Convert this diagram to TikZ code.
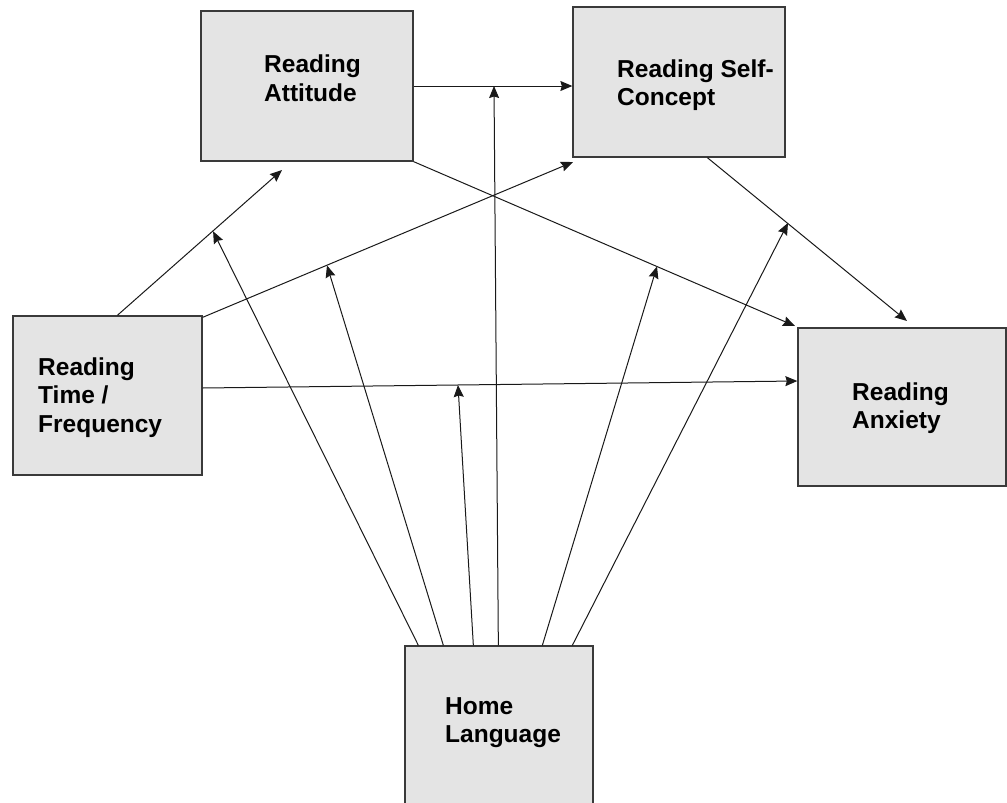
\documentclass[tikz,border=0pt]{standalone}
\usepackage{fontspec}
\setmainfont{Liberation Sans}
\usetikzlibrary{arrows.meta, positioning}
\definecolor{boxfill}{HTML}{E4E4E4}
\definecolor{boxline}{HTML}{3A3A3A}
\tikzset{
  var/.style={draw=boxline, fill=boxfill, line width=1.3pt, inner sep=0pt},
  lbl/.style={anchor=base west, align=left, inner sep=0pt,
    font=\bfseries\fontsize{24.5}{28.5}\selectfont},
  link/.style={-{Stealth[length=12pt,width=10pt,inset=1.5pt]}, line width=1pt, draw=black!90},
}

\begin{document}
\begin{tikzpicture}[x=1pt,y=-1pt]
      \useasboundingbox (0,0) rectangle (1007,803);

      % variables
      \node[var, minimum width=212pt, minimum height=150pt] (att) at (307,86) {};
      \node[var, minimum width=212pt, minimum height=150pt] (rsc) at (679,82) {};
      \node[var, minimum width=189pt, minimum height=159pt] (rtf) at (107.5,395.5) {};
      \node[var, minimum width=208pt, minimum height=158pt] (anx) at (902,407) {};
      \node[var, minimum width=188pt, minimum height=174pt] (hl) at (499,733) {};

      % labels (anchored on the baseline of the last line)
      \node[lbl] (attT) at (264,101) {Reading\\Attitude};
      \node[lbl] (rscT) at (617,105.5) {Reading Self-\\Concept};
      \node[lbl] (rtfT) at (38,432) {Reading\\Time /\\Frequency};
      \node[lbl] (anxT) at (852,428.5) {Reading\\Anxiety};
      \node[lbl] (hlT) at (445,742.5) {Home\\Language};

      % free arrow ends
      \coordinate (attIn) at (282,170);
      \coordinate (rscIn) at (573,162);
      \coordinate (anxIn) at (795,326);
      \coordinate (anxTop) at (907,321);
      \coordinate (onAR) at (494,86);
      \coordinate (onTA) at (213.1,231.3);
      \coordinate (onTR) at (327,265.4);
      \coordinate (onTX) at (458,385);
      \coordinate (onAX) at (657,266.4);
      \coordinate (onRX) at (788,222.9);

      % main paths
      \draw[link] (att.east) -- (att.east -| rsc.west);
      \draw[link] ([xshift=105pt]rtf.north west) -- (attIn);
      \draw[link] ([yshift=-2pt]rtf.north east) -- (rscIn);
      \draw[link] ([yshift=7.5pt]rtf.east) -- ([yshift=26pt]anx.west);
      \draw[link] (att.south east) -- (anxIn);
      \draw[link] ([xshift=135pt]rsc.south west) -- (anxTop);

      % moderation by home language
      \draw[link] ([xshift=14pt]hl.north west) -- (onTA);
      \draw[link] ([xshift=39pt]hl.north west) -- (onTR);
      \draw[link] ([xshift=69pt]hl.north west) -- (onTX);
      \draw[link] ([xshift=94pt]hl.north west) -- (onAR);
      \draw[link] ([xshift=138pt]hl.north west) -- (onAX);
      \draw[link] ([xshift=168pt]hl.north west) -- (onRX);
\end{tikzpicture}
\end{document}
